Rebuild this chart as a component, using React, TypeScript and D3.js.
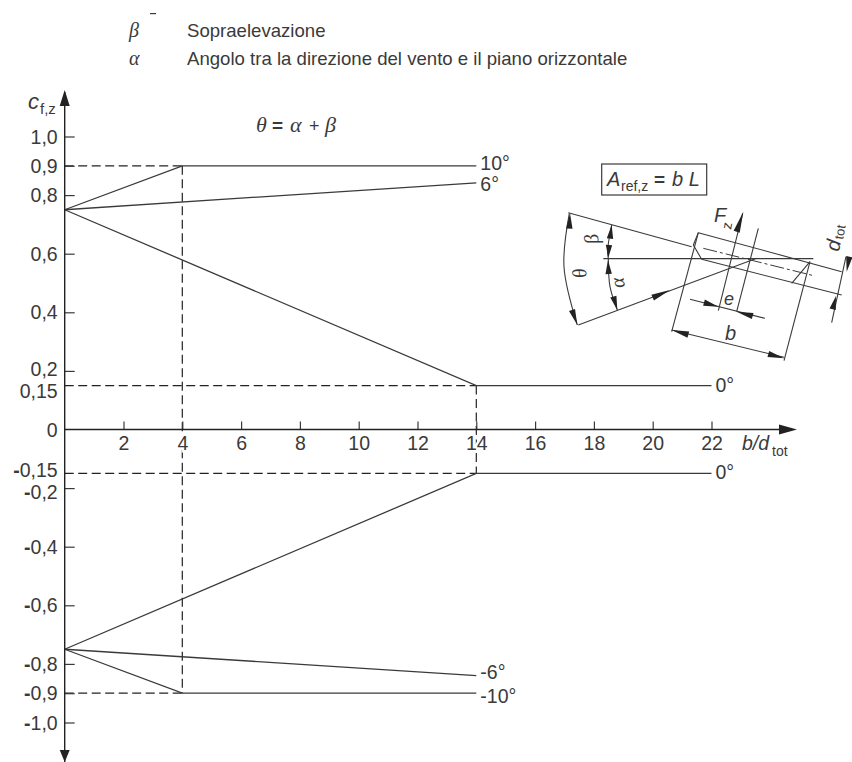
import React, { useEffect, useRef } from 'react';
import * as d3 from 'd3';

const width = 852;
const height = 762;
const sans = '"Liberation Sans", Arial, sans-serif';
const serif = '"Liberation Serif", serif';
const ink = '#3a3a3a';
const tickFont = 19.5;

// tick values on both axes
const xTicks = [2, 4, 6, 8, 10, 12, 14, 16, 18, 20, 22];
const yTicks = [1, 0.9, 0.8, 0.6, 0.4, 0.2, 0.15, 0, -0.15, -0.2, -0.4, -0.6, -0.8, -0.9, -1];
// the labels near +-0.15 are pushed apart in the original
const yLabelNudge = new Map([[0.2, -2], [0.15, 5], [-0.15, -4], [-0.2, 4]]);

// curves: [b/dtot, cf,z]
const curve10: [number, number][] = [[0, 0.75], [4, 0.9], [14, 0.9]];
const curve6: [number, number][] = [[0, 0.75], [14, 0.842]];
const curve0: [number, number][] = [[0, 0.75], [14, 0.15], [22, 0.15]];
const curve0n: [number, number][] = [[0, -0.75], [14, -0.15], [22, -0.15]];
const curve6n: [number, number][] = [[0, -0.75], [14, -0.84]];
const curve10n: [number, number][] = [[0, -0.75], [4, -0.9], [14, -0.9]];
const curves = [curve10, curve6, curve0, curve0n, curve6n, curve10n];

// dashed guides
const guides: [number, number][][] = [
  [[0, 0.9], [4, 0.9]],
  [[0, -0.9], [4, -0.9]],
  [[0, 0.15], [14, 0.15]],
  [[0, -0.15], [14, -0.15]],
  [[4, 0.9], [4, -0.9]],
  [[14, 0.15], [14, -0.15]],
];

// labels at the end of the curves, dy is the drop below the line end
const curveLabels = [
  { text: '10°', at: [14, 0.9], dy: 4 },
  { text: '6°', at: [14, 0.842], dy: 8 },
  { text: '0°', at: [22, 0.15], dy: 6 },
  { text: '0°', at: [22, -0.15], dy: 6 },
  { text: '-6°', at: [14, -0.84], dy: 3 },
  { text: '-10°', at: [14, -0.9], dy: 10 },
];

// inset sketch, in its own units (3 units = 1 px)
const insetLines = [
  [[25, 188], [395, 290]],
  [[415, 248], [845, 365]],
  [[425, 328], [845, 435]],
  [[415, 248], [400, 285], [425, 328]],
  [[695, 400], [750, 335]],
  [[130, 326], [760, 326]],
  [[55, 525], [590, 325]],
  [[415, 248], [335, 545]],
  [[750, 335], [672, 632]],
  [[335, 540], [672, 622]],
  [[390, 448], [615, 505]],
  [[475, 482], [548, 190]],
  [[530, 485], [595, 235]],
  [[858, 320], [815, 518]],
];
const insetDashDot = [[430, 295], [765, 378]];
const insetArcs = [
  { from: [28, 190], via: [12, 350], to: [52, 525] },
  { from: [155, 225], via: [143, 300], to: [145, 326] },
  { from: [145, 326], via: [150, 410], to: [172, 480] },
];
// arrowheads: tip then base centre
const insetArrows = [
  [[330, 420], [278, 443]],
  [[550, 185], [530, 245]],
  [[30, 190], [28, 236]],
  [[52, 525], [36, 480]],
  [[155, 225], [150, 266]],
  [[145, 323], [147, 285]],
  [[144, 330], [146, 372]],
  [[172, 480], [160, 440]],
  [[475, 470], [432, 458]],
  [[530, 485], [578, 498]],
  [[335, 540], [385, 554]],
  [[672, 625], [625, 612]],
  [[860, 365], [868, 320]],
  [[828, 438], [818, 478]],
];

const x = d3.scaleLinear().domain([0, 22]).range([64.7, 711.5]);
const y = d3.scaleLinear().domain([-1, 1]).range([722.5, 136.5]);
const insetX = d3.scaleLinear().domain([0, 876]).range([560, 852]);
const insetY = d3.scaleLinear().domain([0, 690]).range([150, 380]);

const linePath = d3.line<number[]>().x((d) => x(d[0])).y((d) => y(d[1]));
const insetPath = d3.line<number[]>().x((d) => insetX(d[0])).y((d) => insetY(d[1]));
const arcPath = d3.line<number[]>().x((d) => insetX(d[0])).y((d) => insetY(d[1])).curve(d3.curveCatmullRom);

const arrowHead = (tip: number[], base: number[], half = 3.2) => {
  const [tx, ty] = [insetX(tip[0]), insetY(tip[1])];
  const [bx, by] = [insetX(base[0]), insetY(base[1])];
  const len = Math.hypot(tx - bx, ty - by);
  const nx = (-(ty - by) / len) * half;
  const ny = ((tx - bx) / len) * half;
  return `M${tx},${ty}L${bx + nx},${by + ny}L${bx - nx},${by - ny}Z`;
};

const comma = (v: number) => String(v).replace('.', ',');
const yFormat = (v: number) => (Math.abs(v) === 1 ? (v < 0 ? '-1,0' : '1,0') : comma(v));

const App = () => {
  const xRef = useRef<SVGGElement>(null);
  const yRef = useRef<SVGGElement>(null);

  useEffect(() => {
    const xAxis = d3.axisBottom(x).tickValues(xTicks).tickSizeInner(-8).tickSizeOuter(0).tickPadding(7);
    const xg = d3.select(xRef.current!).call(xAxis as any);
    xg.select('.domain').remove();
    // white halo so the dashed guides break around the 4 and 14
    xg.selectAll('text')
      .attr('fill', ink)
      .attr('font-family', sans)
      .attr('font-size', tickFont)
      .attr('stroke', '#fff')
      .attr('stroke-width', 5)
      .attr('paint-order', 'stroke');
    xg.selectAll('line').attr('stroke', ink).attr('stroke-width', 1.2);

    const yAxis = d3.axisLeft(y).tickValues(yTicks).tickSizeInner(-10).tickSizeOuter(0).tickPadding(6).tickFormat((v) => yFormat(+v));
    const yg = d3.select(yRef.current!).call(yAxis as any);
    yg.select('.domain').remove();
    yg.selectAll('.tick line')
      .attr('stroke', ink)
      .attr('stroke-width', 1.2)
      .attr('x2', (d: any) => (Math.abs(d) === 0.15 || d === 0 ? 0 : 10));
    yg.selectAll<SVGTextElement, number>('.tick text')
      .attr('fill', ink)
      .attr('font-family', sans)
      .attr('font-size', tickFont)
      .attr('x', -7)
      .attr('dy', (d) => `${0.34 * tickFont + (yLabelNudge.get(d) ?? 0)}px`)
      .each(function (d) {
        // the minus sign is a short heavy dash in the original
        if (d >= 0) return;
        const sel = d3.select(this);
        const txt = sel.text().slice(1);
        sel.text(null);
        sel.append('tspan').attr('font-weight', 'bold').text('-');
        sel.append('tspan').text(txt);
      });
  }, []);

  return (
    <svg width={width} height={height} style={{ position: 'absolute', left: 0, top: 0, background: '#fff' }}>
      <rect x={150} y={13} width={6} height={1.2} fill={ink} />
      <text x={129} y={37} fontFamily={serif} fontStyle="italic" fontSize={20} fill={ink}>β</text>
      <text x={187} y={37} fontFamily={sans} fontSize={18.6} fill={ink}>Sopraelevazione</text>
      <text x={129} y={65} fontFamily={serif} fontStyle="italic" fontSize={20} fill={ink}>α</text>
      <text x={187} y={65} fontFamily={sans} fontSize={18.6} fill={ink}>Angolo tra la direzione del vento e il piano orizzontale</text>
      <text x={256} y={132} fontFamily={serif} fontStyle="italic" fontSize={22} fill={ink}>θ</text>
      <text x={272} y={132} fontFamily={sans} fontWeight="bold" fontSize={19} fill={ink}>=</text>
      <text x={290} y={132} fontFamily={serif} fontStyle="italic" fontSize={22} fill={ink}>α</text>
      <text x={309} y={132} fontFamily={sans} fontSize={18} fill={ink}>+</text>
      <text x={325} y={132} fontFamily={serif} fontStyle="italic" fontSize={22} fill={ink}>β</text>

      <text x={28} y={109} fontFamily={sans} fontStyle="italic" fontSize={22} fill={ink}>c</text>
      <text x={40} y={114} fontFamily={sans} fontSize={15} fill={ink}>f,z</text>
      <text x={742} y={450} fontFamily={sans} fontStyle="italic" fontSize={19.5} fill={ink}>b/d</text>
      <text x={772} y={456} fontFamily={sans} fontSize={14} fill={ink}>tot</text>

      {guides.map((g, i) => (
        <path key={i} d={linePath(g)!} fill="none" stroke="#222" strokeWidth={1.2} strokeDasharray="9 4.5" />
      ))}
      {curves.map((c, i) => (
        <path key={i} d={linePath(c)!} fill="none" stroke={ink} strokeWidth={1.3} />
      ))}
      {curveLabels.map((l, i) => (
        <text key={i} x={x(l.at[0]) + 4} y={y(l.at[1]) + l.dy} fontFamily={sans} fontSize={tickFont} fill={ink}>
          {l.text}
        </text>
      ))}

      <g ref={xRef} transform={`translate(0,${y(0)})`} />
      <g ref={yRef} transform={`translate(${x(0)},0)`} />

      <line x1={x(0)} x2={x(0)} y1={92} y2={762} stroke="#222" strokeWidth={1.4} />
      <line x1={x(0)} x2={790} y1={y(0)} y2={y(0)} stroke="#222" strokeWidth={1.4} />
      <path d={`M${x(0)},90L${x(0) - 5},106L${x(0) + 5},106Z`} fill="#222" />
      <path d={`M${x(0)},762L${x(0) - 5},750L${x(0) + 5},750Z`} fill="#222" />
      <path d={`M797,${y(0)}L779,${y(0) - 5}L779,${y(0) + 5}Z`} fill="#222" />

      {/* inset sketch */}
      <rect x={601.7} y={164} width={105} height={31} fill="none" stroke={ink} strokeWidth={1.2} />
      <text x={607} y={186} fontFamily={sans} fontStyle="italic" fontSize={20} fill={ink}>A</text>
      <text x={621} y={191} fontFamily={sans} fontSize={14} fill={ink}>ref,z</text>
      <text x={654} y={186} fontFamily={sans} fontWeight="bold" fontSize={19} fill={ink}>=</text>
      <text x={672} y={186} fontFamily={sans} fontStyle="italic" fontSize={20} fill={ink}>b L</text>

      {insetLines.map((l, i) => (
        <path key={i} d={insetPath(l)!} fill="none" stroke={ink} strokeWidth={1.1} />
      ))}
      <path d={insetPath(insetDashDot)!} fill="none" stroke={ink} strokeWidth={1} strokeDasharray="14 3 3 3" />
      {insetArcs.map((a, i) => (
        <path key={i} d={arcPath([a.from, a.via, a.to])!} fill="none" stroke={ink} strokeWidth={1.1} />
      ))}
      {insetArrows.map((a, i) => (
        <path key={i} d={arrowHead(a[0], a[1])} fill="#222" />
      ))}

      <text x={714} y={222} fontFamily={sans} fontStyle="italic" fontSize={20} fill={ink}>F</text>
      <text transform="translate(731,230) rotate(-80)" fontFamily={sans} fontSize={14} fill={ink}>z</text>
      <text transform="translate(587,277) rotate(-100)" fontFamily={serif} fontStyle="italic" fontSize={20} fill={ink}>θ</text>
      <text transform="translate(599,243) rotate(-100)" fontFamily={serif} fontStyle="italic" fontSize={20} fill={ink}>β</text>
      <text transform="translate(625,287) rotate(-100)" fontFamily={serif} fontStyle="italic" fontSize={20} fill={ink}>α</text>
      <text x={724} y={305} fontFamily={sans} fontStyle="italic" fontSize={18} fill={ink}>e</text>
      <text x={725} y={340} fontFamily={sans} fontStyle="italic" fontSize={20} fill={ink}>b</text>
      <text transform="translate(839,252) rotate(-80)" fontFamily={sans} fontStyle="italic" fontSize={20} fill={ink}>d</text>
      <text transform="translate(843,240) rotate(-80)" fontFamily={sans} fontSize={13} fill={ink}>tot</text>
    </svg>
  );
};

export default App;
